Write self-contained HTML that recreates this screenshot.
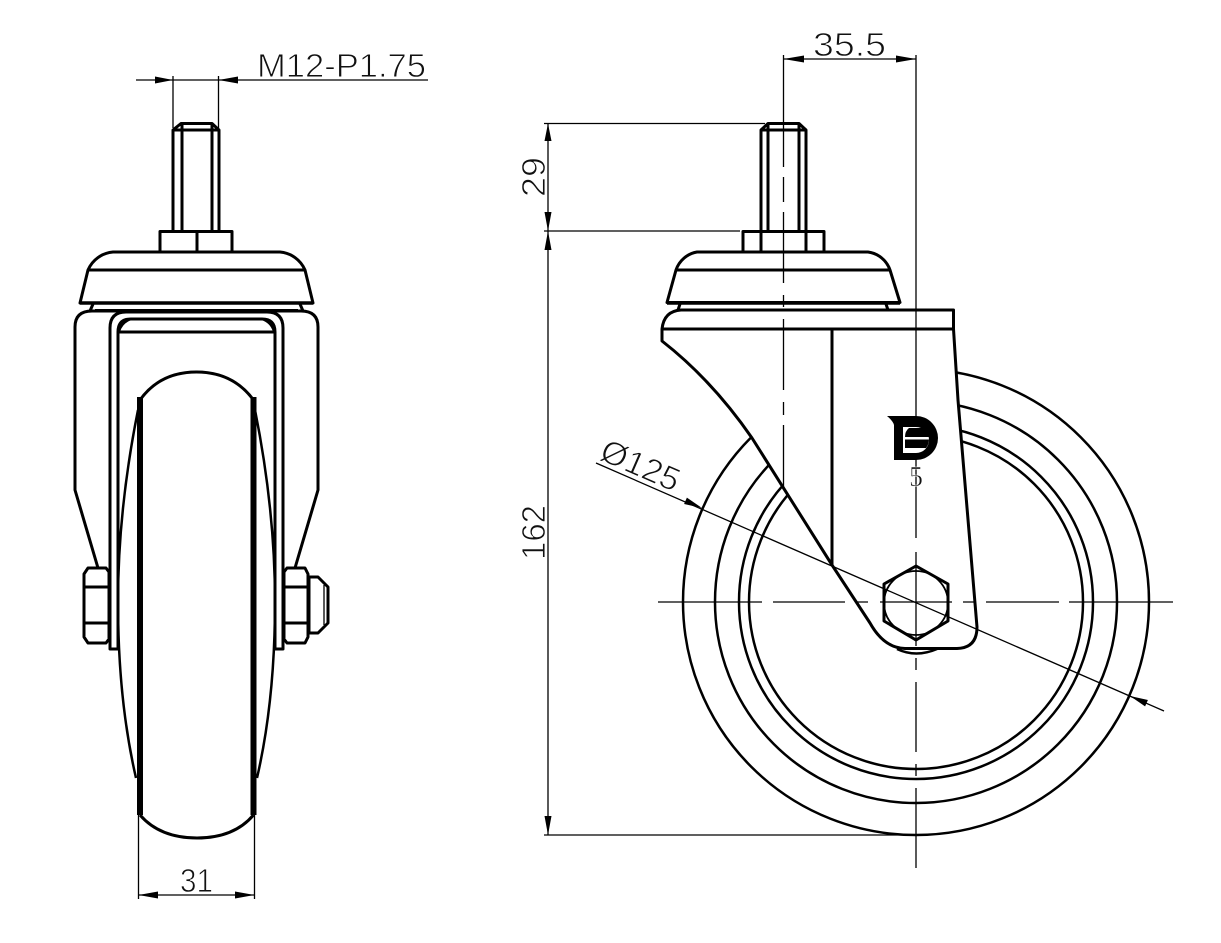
<!DOCTYPE html>
<html><head><meta charset="utf-8"><style>
html,body{margin:0;padding:0;background:#fff}
svg{display:block}
text{font-family:"Liberation Sans",sans-serif;fill:#111;stroke:#fff;stroke-width:.9;paint-order:fill stroke}
.m{fill:none;stroke:#000;stroke-width:3;stroke-linejoin:round}
.w{fill:#fff;stroke:#000;stroke-width:3;stroke-linejoin:round}
.c{fill:none;stroke:#000;stroke-width:2.5}
.t{fill:none;stroke:#000;stroke-width:1.3}
.a{fill:#000;stroke:none}
</style></head><body>
<svg width="1221" height="943" viewBox="0 0 1221 943" xmlns="http://www.w3.org/2000/svg">
<rect width="1221" height="943" fill="#fff"/>

<!-- LEFT VIEW -->
<!-- wheel bulge -->
<path class="c" d="M138 410Q118 510 118 602Q118 700 136 778"/>
<path class="c" d="M255 410Q275 510 275 602Q275 700 257 778"/>
<!-- outer fork -->
<path class="m" d="M98 568L75 490V327Q75 311 92 311H301Q318 311 318 327V490L295 568"/>
<!-- bracket -->
<path class="m" d="M110 649V328Q110 312 126 312H267Q283 312 283 328V649H275V332Q275 319 262 319H131Q118 319 118 332V649Z"/>
<path class="m" d="M118 332H275"/>
<path class="c" d="M119 331Q122 322 131 319M274 331Q271 322 262 319"/>
<!-- wheel -->
<path class="m" d="M140 400Q160 372 196.500 372Q233 372 253.500 400"/>
<path class="m" d="M140 815Q160 838 197 838Q234 838 253.500 815"/>
<path d="M140 397V815M253.500 397V815" fill="none" stroke="#000" stroke-width="6"/>
<!-- head -->
<path class="m" d="M93 304L90 311M300 304L303 311"/>
<path class="w" d="M88 270A30 30 0 0 1 113 252H280A30 30 0 0 1 305 270L313 303H80Z"/>
<path class="m" d="M88 270H305"/>
<path d="M80 303H313" stroke="#000" stroke-width="3.6"/>
<path class="m" d="M95 310.500H298"/>
<!-- nut/stem -->
<path class="m" d="M160 252V231.500H232V252M197 231.500V252"/>
<path class="m" d="M173 231V130L181 123.500H212L219 130V231M182 231V124M212 231V124M173 130H219"/>
<!-- side nuts -->
<path class="w" d="M88 568H106L109 572V639L106 643H88L84 637V574Z"/>
<path class="m" d="M85 587H108M85 623H108"/>
<path class="w" d="M287 568H305L308 574V637L305 643H287L284 639V572Z"/>
<path class="m" d="M285 587H307M285 623H307"/>
<path class="m" d="M309 577H318L328 587V623L318 633H309Z"/>
<path class="t" d="M324 585V625"/>

<!-- left dims -->
<path class="t" d="M136 80H428M173 76V128M218.500 76V128"/>
<path class="a" d="M173 80L155 76.500V83.500ZM218.500 80L238 76.500V83.500Z"/>
<text x="257" y="77" font-size="33" textLength="169" lengthAdjust="spacingAndGlyphs">M12-P1.75</text>
<path class="t" d="M138.500 815V899M254.500 815V899M138.500 895H254.500"/>
<path class="a" d="M138.500 895L158 891.500V898.500ZM254.500 895L235 891.500V898.500Z"/>
<text x="180" y="892" font-size="33" textLength="33" lengthAdjust="spacingAndGlyphs">31</text>

<!-- RIGHT VIEW -->
<circle class="c" cx="916" cy="602" r="233"/>
<circle class="c" cx="916" cy="602" r="201"/>
<circle class="c" cx="916" cy="602" r="177"/>
<circle class="c" cx="916" cy="602" r="167"/>
<path class="c" d="M897 649Q916 658 937 649"/>
<!-- fork -->
<path class="w" d="M662 329Q664 311 681 310H953.500V329L958 400L977 627Q977 648 957 648.500H905Q884 648 870 623L832 565L752 438Q712 380 662 341Z"/>
<path class="m" d="M662 329H953.500M832 329V565"/>
<!-- head -->
<path class="m" d="M680 304L678 310M886 304L888 310"/>
<path class="w" d="M676 270A27 27 0 0 1 697 252H868A27 27 0 0 1 890 270L900 302.500H667Z"/>
<path class="m" d="M676 270H890"/>
<path d="M667 303H900" stroke="#000" stroke-width="3.600"/>
<!-- stem and nut -->
<path class="m" d="M743 252V231.500H824V252M761 231.500V252M806 231.500V252"/>
<path class="m" d="M761 231V130L768 123.500H799L806 130V231M768 231V124M799 231V124M761 130H806"/>
<!-- hex -->
<path class="m" d="M916 566L948 584V621L916 640L884 621V584Z"/>
<circle cx="916" cy="603" r="32" fill="none" stroke="#000" stroke-width="1.800"/>
<!-- center lines -->
<path class="t" d="M658 602H762M773 602H845M857 602H868M880 602H952M963 602H974M986 602H1059M1069 602H1173"/>
<path class="t" d="M916 55V538M916 552V646M916 658V670M916 682V752M916 764V776M916 788V868"/>
<path class="t" d="M783.500 55V167M783.500 177V202M783.500 212V283M783.500 295V307M783.500 319V390M783.500 402V415M783.500 425V490"/>
<!-- logo -->
<path class="a" d="M887 416H916A22 22 0 0 1 916 460H894V425Q893 421 887 416Z"/>
<path fill="#fff" d="M903 427H916A13 13 0 0 1 916 453H903Z"/>
<path class="a" d="M909 428H926Q929 432 929 437H905Q905 431 909 428ZM905 439.500H929Q929 444 926 448H905Z"/>
<text x="916" y="486" font-size="28" text-anchor="middle" style="font-family:'Liberation Serif',serif;stroke-width:.5">5</text>

<!-- right dims -->
<path class="t" d="M783.500 59H916"/>
<path class="a" d="M783.500 59L804 55.500V62.500ZM916 59L896 55.500V62.500Z"/>
<text x="813" y="56" font-size="33" textLength="73" lengthAdjust="spacingAndGlyphs">35.5</text>
<path class="t" d="M544 123.500H765M544 231H740M544 835H916M548 123.500V835"/>
<path class="a" d="M548 123.500L544.500 141H551.500ZM548 231L544.500 212H551.500ZM548 231L544.500 250H551.500ZM548 835L544.500 816H551.500Z"/>
<text transform="translate(545 197) rotate(-90)" font-size="33" textLength="40" lengthAdjust="spacingAndGlyphs">29</text>
<text transform="translate(545 560) rotate(-90)" font-size="33" textLength="55" lengthAdjust="spacingAndGlyphs">162</text>
<path class="t" d="M596 463L1164 711"/>
<path class="a" d="M702 508L684.100 504L686.900 497.600ZM1130 696L1145.100 706.400L1147.900 700Z"/>
<text transform="translate(598 459) rotate(23.600)" font-size="33" textLength="83" lengthAdjust="spacingAndGlyphs">Ø125</text>
</svg>
</body></html>
